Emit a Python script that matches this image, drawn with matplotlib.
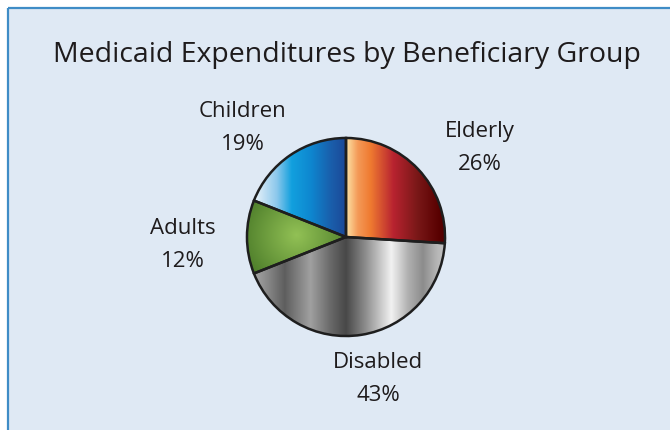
import numpy as np
import matplotlib
matplotlib.use("Agg")
import matplotlib.pyplot as plt
from matplotlib.patches import Rectangle
from matplotlib.colors import to_rgb

title = "Medicaid Expenditures by Beneficiary Group"
categories = ["Elderly", "Disabled", "Adults", "Children"]
shares = [26, 43, 12, 19]

# gradient stops (position across pie, colour)
elderly_stops = [(0.0, "#fde5a8"), (0.12, "#f49a58"), (0.25, "#ef7a30"),
                 (0.48, "#b82330"), (0.72, "#7a1818"), (0.95, "#580000"), (1.0, "#500000")]
disabled_stops = [(-1.0, "#b0b0b0"), (-0.95, "#a8a8a8"), (-0.8, "#8a8a8a"), (-0.62, "#5e5e5e"),
                  (-0.36, "#a0a0a0"), (-0.16, "#6a6a6a"), (0.0, "#484848"),
                  (0.19, "#8a8a8a"), (0.46, "#f2f2f2"), (0.63, "#b0b0b0"),
                  (0.78, "#8c8c8c"), (0.93, "#b8b8b8"), (1.0, "#c0c0c0")]
children_stops = [(-1.0, "#e8f2fa"), (-0.9, "#e0eef8"), (-0.7, "#8cc8ec"), (-0.55, "#12a0de"),
                  (-0.35, "#0e86cf"), (-0.15, "#1a5eab"), (0.0, "#1b4897")]
adults_center = "#92c155"
adults_edge = "#4a7a28"

W, H = 670, 430
fig = plt.figure(figsize=(W / 100, H / 100), dpi=100)
fig.patch.set_facecolor("white")

# panel
bg = fig.add_axes([0, 0, 1, 1])
bg.set_xlim(0, W)
bg.set_ylim(H, 0)
bg.axis("off")
bg.add_patch(Rectangle((8, 8), W, H, facecolor="#dfe9f4", edgecolor="none"))
bg.plot([8, 8], [H, 8], color="#3f8cc6", lw=1.6, solid_capstyle="butt")
bg.plot([8, W], [8, 8], color="#3f8cc6", lw=1.6, solid_capstyle="butt")

font = "Open Sans"
bg.text(347, 55, title, ha="center", va="center", fontsize=20.5,
        family=font, color="#1e1b1c")

lab_pos = {"Elderly": (480, 148), "Disabled": (378, 379),
           "Adults": (183, 245), "Children": (243, 128)}
for c, s in zip(categories, shares):
    x, y = lab_pos[c]
    bg.text(x, y, f"{c}\n{s}%", ha="center", va="center", fontsize=16,
            family=font, color="#1e1b1c", linespacing=1.72)

# pie
cx, cy, r = 346, 237, 101
ax = fig.add_axes([(cx - r) / W, 1 - (cy + r) / H, 2 * r / W, 2 * r / H])
ax.set_xlim(-1.02, 1.02)
ax.set_ylim(-1.02, 1.02)
ax.axis("off")
wedges, _ = ax.pie(shares, startangle=90, counterclock=False, radius=1.0,
                   wedgeprops=dict(edgecolor="#1e1e1e", linewidth=1.8, facecolor="none"))

N = 400
u = np.linspace(-1.02, 1.02, N)

def lin_img(stops):
    pos = [p for p, _ in stops]
    cols = np.array([to_rgb(c) for _, c in stops])
    row = np.stack([np.interp(u, pos, cols[:, k]) for k in range(3)], axis=-1)
    return np.tile(row[None, :, :], (N, 1, 1))

def rad_img():
    X, Y = np.meshgrid(u, u[::-1])
    d = np.sqrt((X + 0.5) ** 2 + (Y - 0.02) ** 2)
    t = np.clip(d / 0.6, 0, 1)[..., None]
    c0 = np.array(to_rgb(adults_center))
    c1 = np.array(to_rgb(adults_edge))
    return c0 * (1 - t) + c1 * t

imgs = {"Elderly": lin_img(elderly_stops), "Disabled": lin_img(disabled_stops),
        "Adults": rad_img(), "Children": lin_img(children_stops)}

for w, c in zip(wedges, categories):
    im = ax.imshow(imgs[c], extent=(-1.02, 1.02, -1.02, 1.02), origin="upper",
                   interpolation="bilinear", zorder=1)
    im.set_clip_path(w)
    w.set_zorder(3)

ax.set_xlim(-1.02, 1.02)
ax.set_ylim(-1.02, 1.02)

fig.savefig("out.png", dpi=100)
